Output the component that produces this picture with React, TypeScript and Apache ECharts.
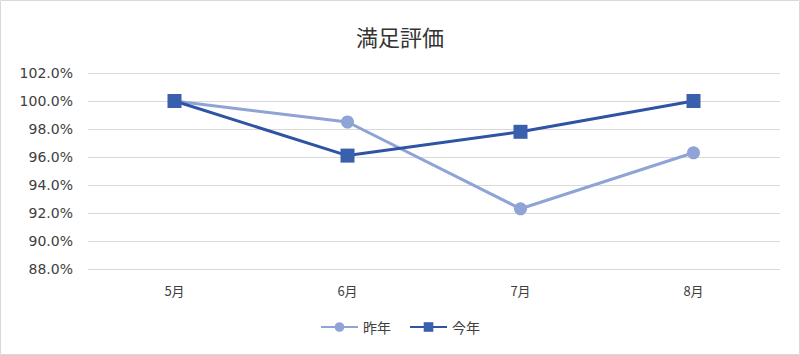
import React, { useEffect, useRef } from "react";
import * as echarts from "echarts";

const categories = ["5月", "6月", "7月", "8月"];
const lastYear = [100.0, 98.5, 92.3, 96.3];
const thisYear = [100.0, 96.1, 97.8, 100.0];
const seriesNames = ["昨年", "今年"];
const yMin = 88;
const yMax = 102;
const yStep = 2;

export default function App() {
  const ref = useRef<HTMLDivElement>(null);
  useEffect(() => {
    document.body.style.margin = "0";
    const chart = echarts.init(ref.current!, null, { renderer: "svg" });
    const font = "'Noto Sans CJK JP', 'Noto Sans', sans-serif";
    const numFont = "'DejaVu Sans', 'Noto Sans', sans-serif";
    chart.setOption({
      animation: false,
      backgroundColor: "#ffffff",
      title: {
        text: "満足評価",
        left: "center",
        top: 20,
        textStyle: { fontFamily: font, fontSize: 22, fontWeight: "normal", color: "#333333" },
      },
      graphic: [
        {
          type: "rect",
          shape: { x: 0.5, y: 0.5, width: 799, height: 354 },
          style: { fill: "none", stroke: "#d9d9d9", lineWidth: 1 },
          silent: true,
        },
      ],
      grid: { left: 88, right: 20, top: 73, bottom: 86, containLabel: false },
      xAxis: {
        type: "category",
        data: categories,
        boundaryGap: true,
        axisLine: { show: false },
        axisTick: { show: false },
        axisLabel: { fontFamily: font, fontSize: 13, color: "#404040", margin: 15 },
      },
      yAxis: {
        type: "value",
        min: yMin,
        max: yMax,
        interval: yStep,
        axisLine: { show: false },
        axisTick: { show: false },
        splitLine: { lineStyle: { color: "#d9d9d9", width: 1 } },
        axisLabel: {
          fontFamily: numFont,
          fontSize: 14,
          color: "#404040",
          margin: 15,
          formatter: (v: number) => `${v.toFixed(1)}%`,
        },
      },
      legend: {
        bottom: 16,
        left: "center",
        itemWidth: 37,
        itemHeight: 12,
        itemGap: 18,
        textStyle: { fontFamily: font, fontSize: 14, color: "#404040" },
        data: seriesNames,
      },
      series: [
        {
          name: seriesNames[0],
          type: "line",
          data: lastYear,
          symbol: "circle",
          symbolSize: 13,
          lineStyle: { color: "#8fa3d6", width: 3 },
          itemStyle: { color: "#8fa3d6" },
        },
        {
          name: seriesNames[1],
          type: "line",
          data: thisYear,
          symbol: "rect",
          symbolSize: 14,
          lineStyle: { color: "#2e54a3", width: 3 },
          itemStyle: { color: "#3a5fad" },
        },
      ],
    });
    return () => chart.dispose();
  }, []);
  return <div ref={ref} style={{ width: 800, height: 355, position: "absolute", left: 0, top: 0 }} />;
}
